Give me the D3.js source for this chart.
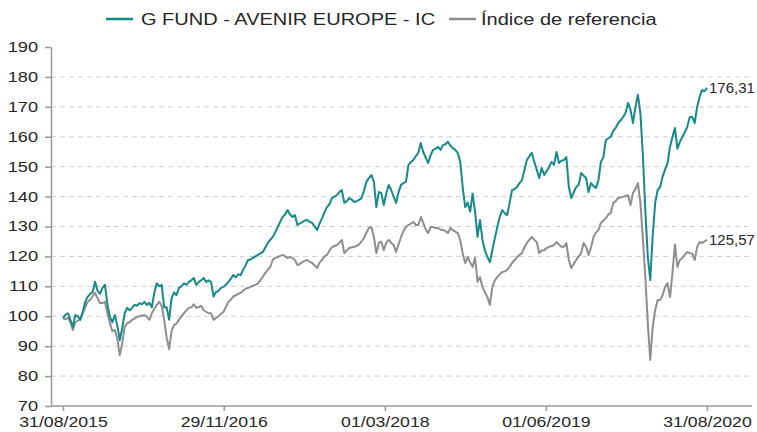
<!DOCTYPE html>
<html>
<head>
<meta charset="utf-8">
<script src="https://cdn.jsdelivr.net/npm/d3@7"></script>
<style>
  body { margin: 0; background: #fff; }
  svg text { font-family: "Liberation Sans", Arial, sans-serif; fill: #262626; }
</style>
</head>
<body>
<div id="chart"></div>
<script>
// Data (weekly closes, base 100 on 31/08/2015)
var start_date   = "31/08/2015";
var tick_labels  = ["31/08/2015", "29/11/2016", "01/03/2018", "01/06/2019", "31/08/2020"];
var y_ticks      = [70, 80, 90, 100, 110, 120, 130, 140, 150, 160, 170, 180, 190];
var series_names = ["G FUND - AVENIR EUROPE - IC", "Índice de referencia"];

var fund = [
  99.4, 100.5, 101, 98.8, 96.5, 100.4, 100, 98.8, 101.5, 104.8,
  106.5, 107.5, 108, 111.5, 108.5, 107.5, 109.5, 110.5, 104, 99.8,
  98, 100.4, 97, 92, 96, 101, 102.8, 102, 102.8, 103.8,
  103.5, 104.4, 104, 104.8, 103.8, 104.5, 103, 107.8, 111, 110,
  110.5, 103, 103, 98.8, 106, 108, 107, 109.5, 110, 111,
  110.5, 111.5, 112, 112.8, 110.5, 111.5, 112, 112.8, 111.5, 112,
  111.5, 106.6, 108.1, 108.5, 109.5, 109.8, 110.5, 111.5, 112.5, 113.8,
  113, 114, 113.8, 115.5, 117, 118.8, 119, 119.5, 120, 120.5,
  121, 121.5, 123, 124.5, 125.5, 126.5, 128, 129.8, 131.5, 133.2,
  134, 135.5, 134, 133.2, 133.8, 130.5, 131, 131.5, 132, 132.2,
  131.5, 131.2, 130, 128.8, 131, 132.8, 134.8, 136.5, 137.5, 139.5,
  140, 140.5, 141.5, 142.2, 137.9, 138.5, 139.5, 139, 138.2, 138.5,
  138.9, 139.5, 142, 145, 146.2, 147.2, 144.9, 136.5, 141.5, 141.2,
  137.2, 141, 143.9, 142.2, 140, 137.9, 141.5, 143.9, 144.5, 144.9,
  150.6, 151.5, 152.2, 153.5, 154.6, 157.9, 154.9, 153, 151.2, 153.9,
  155.6, 156, 156.6, 155.6, 157.2, 157.5, 158.3, 157, 156.2, 155.6,
  154.6, 151.6, 143, 136.5, 138, 135, 141, 135, 126.5, 132.2,
  125.5, 122, 119.8, 118.1, 122.1, 126, 129.8, 133.2, 135.5, 134.5,
  133.8, 137.9, 142.2, 142.5, 143.2, 144.5, 145.5, 148.9, 152.2, 153.5,
  154.6, 151.6, 149, 146.2, 149.6, 147.2, 148.5, 149.9, 151.6, 150.6,
  154.9, 151.2, 152, 152.2, 153.2, 143.2, 139.5, 141.5, 143.2, 143.9,
  147.9, 147, 146.2, 141.5, 144.5, 143.5, 142.9, 145.5, 151.6, 153.2,
  158.9, 159.5, 160, 162, 163, 164.6, 165.5, 166.6, 168, 171.3,
  169, 164.6, 170, 174, 168, 154, 135.5, 120, 112.1, 127,
  137.9, 142.2, 143.2, 146.6, 149, 151.2, 156.6, 159.9, 162.9, 156,
  158.3, 159.9, 161.5, 163.3, 166.6, 166.6, 164.6, 170, 173.3, 175.6,
  175.2, 176.31
];

var index_ref = [
  99.4, 99, 99.5, 98, 95.4, 98, 98.5, 99, 101, 103,
  104.8, 105.5, 106.6, 107.8, 106, 104.4, 104.4, 104.8, 101, 97.7,
  95, 95.4, 92.5, 87, 91, 96.4, 97.7, 98, 98.8, 99.2,
  99.8, 100, 100.2, 100.4, 99.8, 98.8, 101, 102.5, 103.8, 104.8,
  103.5, 98.8, 93, 89, 95, 97, 97.5, 98.8, 100, 101,
  102, 102.8, 103, 104, 102.8, 103.1, 103.5, 102, 101.5, 101,
  101, 98.8, 99.4, 100, 100.8, 101.4, 103, 104.8, 105.5, 106.6,
  107, 107.5, 107.8, 108.5, 109.2, 109.5, 109.8, 110.2, 110.5, 111,
  112.1, 113.2, 114.5, 115.5, 116.5, 118.8, 119.5, 119.8, 120.2, 120.5,
  120, 119.5, 119.8, 119.5, 118.8, 117.1, 117.5, 118.1, 118.5, 118.8,
  118.2, 117.8, 117, 116.1, 118, 118.8, 120, 120.5, 122, 123,
  123.5, 123.8, 124.5, 125.5, 121.1, 122, 122.8, 123, 123.2, 123.5,
  124, 125, 126.2, 128, 129.5, 129.8, 126.5, 121.1, 124.5, 125,
  122.1, 124.5, 125.5, 124.5, 123.8, 121.5, 124, 126.5, 128.5, 129.8,
  130.5, 131, 131.5, 130.5, 130.5, 133.2, 131.2, 129, 127.8, 129.8,
  129.8, 129.5, 129.5, 129, 128.8, 128.5, 127.8, 129.5, 128.8, 128.3,
  127.8, 125.5, 121, 117.8, 119.8, 118, 116.5, 119.5, 111.5, 113.1,
  109.8, 108, 106.4, 103.8, 109.8, 112, 113.1, 114, 114.8, 115,
  115.5, 116.5, 117.8, 118.8, 119.8, 120.5, 121.1, 123, 124.5, 125.5,
  126.5, 125.5, 124.8, 121.1, 122, 122.1, 122.8, 123.2, 123.5, 123.8,
  124.8, 124, 123.2, 123.2, 124.5, 118.8, 116.1, 117.5, 118.8, 120,
  121.1, 124.5, 123.2, 120.5, 123, 126.5, 128, 128.8, 131.2, 132,
  132.8, 134, 134.5, 137.9, 138.5, 139.5, 139.7, 139.9, 140.2, 140.5,
  137.2, 141.2, 142.5, 144.5, 138, 126, 113.1, 97.7, 85.4, 96.4,
  102.1, 105.4, 105.4, 107, 109.8, 111.1, 106.4, 114.5, 124, 116.5,
  118.8, 119.5, 120.5, 121.5, 121.1, 121, 118.8, 123.2, 124.8, 124.5,
  125, 125.57
];

var chart_width  = 757;
var chart_height = 432;
var colors       = ["#17898a", "#8e8e8e"];

var parse  = d3.timeParse("%d/%m/%Y");
var format = d3.timeFormat("%d/%m/%Y");
var start  = parse(start_date);
var dates  = d3.range(fund.length).map(function(i) { return d3.timeDay.offset(start, 7 * i); });

// Scales
var x_scale = d3.scaleTime()
  .domain([parse(tick_labels[0]), parse(tick_labels[tick_labels.length - 1])])
  .range([63, 707]);

var y_scale = d3.scaleLinear()
  .domain([70, 190])
  .range([406, 47]);

var svg = d3.select("#chart")
  .append("svg")
  .attr("width", chart_width)
  .attr("height", chart_height);

// Grid
svg.append("g")
  .selectAll("line")
  .data(y_ticks.filter(function(d) { return d > 70 && d < 190; }))
  .enter()
  .append("line")
  .attr("x1", 51)
  .attr("x2", 752)
  .attr("y1", function(d) { return y_scale(d); })
  .attr("y2", function(d) { return y_scale(d); })
  .attr("stroke", "#d0d0d0")
  .attr("stroke-width", 1)
  .attr("stroke-dasharray", "5,4");

// Y axis (the original's glyphs are stretched sideways)
var y_axis = svg.append("g")
  .attr("transform", "translate(51,0)")
  .call(d3.axisLeft(y_scale).tickValues(y_ticks).tickSize(6).tickSizeOuter(0));
y_axis.selectAll("path, line").attr("stroke", "#999").attr("stroke-width", 1.5);
y_axis.selectAll("text")
  .attr("x", -10)
  .attr("transform", "scale(1.3,1)")
  .attr("fill", "#262626")
  .style("font-size", "14px")
  .style("font-family", "'Liberation Sans', Arial, sans-serif");

// X axis
var x_axis = svg.append("g")
  .attr("transform", "translate(0,406)")
  .call(d3.axisBottom(x_scale).tickValues(tick_labels.map(parse)).tickFormat(format).tickSize(5).tickSizeOuter(0));
x_axis.select(".domain").remove();
x_axis.append("line")
  .attr("x1", 51).attr("x2", 752)
  .attr("stroke", "#999").attr("stroke-width", 1.5);
x_axis.selectAll(".tick line").attr("stroke", "#999").attr("stroke-width", 1.5);
x_axis.selectAll("text")
  .attr("y", 10)
  .attr("transform", "scale(1.18,1)")
  .attr("fill", "#262626")
  .style("font-size", "15px")
  .style("font-family", "'Liberation Sans', Arial, sans-serif");

// Lines
var line = d3.line()
  .x(function(d, i) { return x_scale(dates[i]); })
  .y(function(d) { return y_scale(d); });

[index_ref, fund].forEach(function(values, j) {
  var c = j === 0 ? colors[1] : colors[0];
  svg.append("path")
    .datum(values)
    .attr("d", line)
    .attr("fill", "none")
    .attr("stroke", c)
    .attr("stroke-width", 2)
    .attr("stroke-linejoin", "round");

  var last = values[values.length - 1];
  svg.append("text")
    .attr("x", x_scale(dates[values.length - 1]) + 2)
    .attr("y", y_scale(last) + 5)
    .style("font-size", "15px")
    .text(last.toFixed(2).replace(".", ","));
});

// Legend
var legend_x = [106, 449];
series_names.forEach(function(name, i) {
  var g = svg.append("g").attr("transform", "translate(" + legend_x[i] + ",19)");
  g.append("line")
    .attr("x1", 0).attr("x2", 27)
    .attr("stroke", colors[i])
    .attr("stroke-width", 2.5);
  g.append("g")
    .attr("transform", "translate(" + (i === 0 ? 35 : 32) + ",0) scale(1.25,1)")
    .append("text")
    .attr("y", 6)
    .style("font-size", "16px")
    .text(name);
});
</script>
</body>
</html>
